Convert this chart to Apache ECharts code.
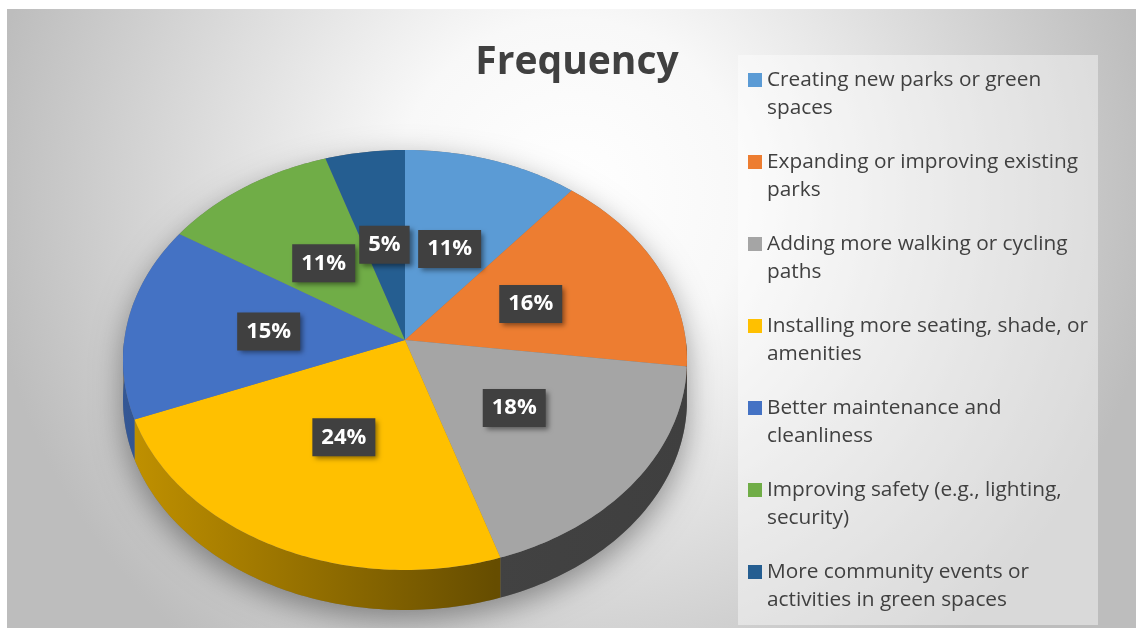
<!DOCTYPE html>
<html><head><meta charset="utf-8">
<script src="https://cdn.jsdelivr.net/npm/echarts@6/dist/echarts.min.js"></script>
<style>html,body{margin:0;padding:0;background:#fff}#c{width:1136px;height:628px}</style>
</head><body><div id="c"></div>
<script>
const titleText = 'Frequency';
const categories = [
  'Creating new parks or green spaces',
  'Expanding or improving existing parks',
  'Adding more walking or cycling paths',
  'Installing more seating, shade, or amenities',
  'Better maintenance and cleanliness',
  'Improving safety (e.g., lighting, security)',
  'More community events or activities in green spaces'
];
const values = [11, 16, 18, 24, 15, 11, 5];
const colors = ['#5B9BD5', '#ED7D31', '#A5A5A5', '#FFC000', '#4472C4', '#70AD47', '#255E91'];

const total = values.reduce((a, b) => a + b, 0);
const starts = [];
(function () { let acc = 0; values.forEach(v => { starts.push(acc); acc += v; }); })();

// perspective projection of a unit circle (tilted disc)
const PC = 0.0952, PW = 1.0046, DEPTH = 0.2105, LABEL_R = 0.49;
function proj(theta, r, dy) {
  const u = r * Math.sin(theta), v = -r * Math.cos(theta);
  const d = 1 - PC * v;
  return [u / d / PW, v * (1 + PC) / d + (dy || 0)];
}
function shade(hex, f) {
  const n = parseInt(hex.slice(1), 16);
  const r = Math.round(((n >> 16) & 255) * f), g = Math.round(((n >> 8) & 255) * f), b = Math.round((n & 255) * f);
  return 'rgb(' + r + ',' + g + ',' + b + ')';
}
function arcPts(api, a0, a1, dy) {
  const steps = Math.max(6, Math.ceil((a1 - a0) / (Math.PI / 180)));
  const pts = [];
  for (let k = 0; k <= steps; k++) pts.push(api.coord(proj(a0 + (a1 - a0) * k / steps, 1, dy)));
  return pts;
}

const chart = echarts.init(document.getElementById('c'));
chart.setOption({
  animation: false,
  backgroundColor: '#ffffff',
  color: colors,
  graphic: [
    { type: 'rect', z: -10, silent: true, shape: { x: 7, y: 9, width: 1129, height: 619 },
      style: { fill: { type: 'radial', x: 0.5, y: 0.3, r: 0.95,
        colorStops: [{ offset: 0, color: '#ffffff' }, { offset: 0.3, color: '#f8f8f8' }, { offset: 1, color: '#bdbdbd' }] } } },
    { type: 'rect', z: -9, silent: true, shape: { x: 738, y: 55, width: 360, height: 570 },
      style: { fill: 'rgba(255,255,255,0.42)' } }
  ],
  title: {
    text: titleText, left: 572, top: 38, textAlign: 'center',
    textStyle: { fontFamily: 'Open Sans', fontWeight: 'bold', fontSize: 39, color: '#404040' }
  },
  legend: {
    data: categories, orient: 'vertical', left: 748, top: 66, padding: 0,
    itemWidth: 14, itemHeight: 42, itemGap: 26, selectedMode: false,
    icon: 'path://M0,0H14V14H0Z M0,42L14,42',
    itemStyle: { borderWidth: 0 },
    textStyle: { fontFamily: 'Open Sans', fontSize: 20.8, lineHeight: 28, color: '#404040', width: 332, overflow: 'break' }
  },
  grid: { left: 123, top: 150, width: 564, height: 420 },
  xAxis: { type: 'value', min: -1, max: 1, show: false },
  yAxis: { type: 'value', min: -1, max: 230 / 190, inverse: true, show: false },
  series: [
    {
      type: 'custom', name: 'shadow', silent: true, data: [[0]],
      renderItem: function (params, api) {
        const tL = Math.acos(-PC), tR = 2 * Math.PI - Math.acos(-PC);
        const front = arcPts(api, tL, tR, DEPTH);
        const back = arcPts(api, tR, tL + 2 * Math.PI, 0);
        return { type: 'polygon', shape: { points: front.concat(back) },
          style: { fill: '#777', shadowBlur: 30, shadowOffsetY: 10, shadowColor: 'rgba(0,0,0,0.38)' } };
      }
    },
    {
      type: 'custom', name: 'Frequency', silent: true,
      data: values.map((v, i) => ({ name: categories[i], value: [v] })),
      renderItem: function (params, api) {
        const i = params.dataIndex;
        const v = api.value(0);
        const a0 = starts[i] / total * 2 * Math.PI, a1 = (starts[i] + v) / total * 2 * Math.PI;
        const children = [];
        const xl = api.coord([-1, 0])[0], xr = api.coord([1, 0])[0];
        const s0 = Math.max(a0, Math.PI / 2), s1 = Math.min(a1, 1.5 * Math.PI);
        if (s1 > s0) {
          const up = arcPts(api, s0, s1, 0), dn = arcPts(api, s0, s1, DEPTH).reverse();
          children.push({ type: 'polygon', z2: 5, shape: { points: up.concat(dn) },
            style: { fill: { type: 'linear', global: true, x: xl, y: 0, x2: xr, y2: 0,
              colorStops: [{ offset: 0, color: shade(colors[i], 0.76) }, { offset: 0.66, color: shade(colors[i], 0.4) }, { offset: 1, color: shade(colors[i], 0.38) }] } } });
        }
        const topPts = [api.coord([0, 0])].concat(arcPts(api, a0, a1, 0));
        children.push({ type: 'polygon', z2: 10, shape: { points: topPts }, style: { fill: colors[i] } });
        const mid = (a0 + a1) / 2;
        const lp = api.coord(proj(mid, LABEL_R, 0));
        children.push({ type: 'text', z2: 100, x: lp[0], y: lp[1] + 1,
          style: { text: Math.round(v / total * 100) + '%', align: 'center', verticalAlign: 'middle',
            fontFamily: 'Open Sans', fontWeight: 'bold', fontSize: 22, fill: '#ffffff',
            backgroundColor: '#404040', padding: [9, 9, 7, 9],
            shadowBlur: 5, shadowOffsetX: 3, shadowOffsetY: 3, shadowColor: 'rgba(0,0,0,0.45)' } });
        return { type: 'group', children: children };
      }
    },
    {
      type: 'pie', name: 'legendProvider', silent: true, center: [-100, -100], radius: 1,
      label: { show: false }, labelLine: { show: false }, itemStyle: { borderWidth: 0 },
      data: values.map((v, i) => ({ name: categories[i], value: v }))
    }
  ]
});
</script></body></html>
